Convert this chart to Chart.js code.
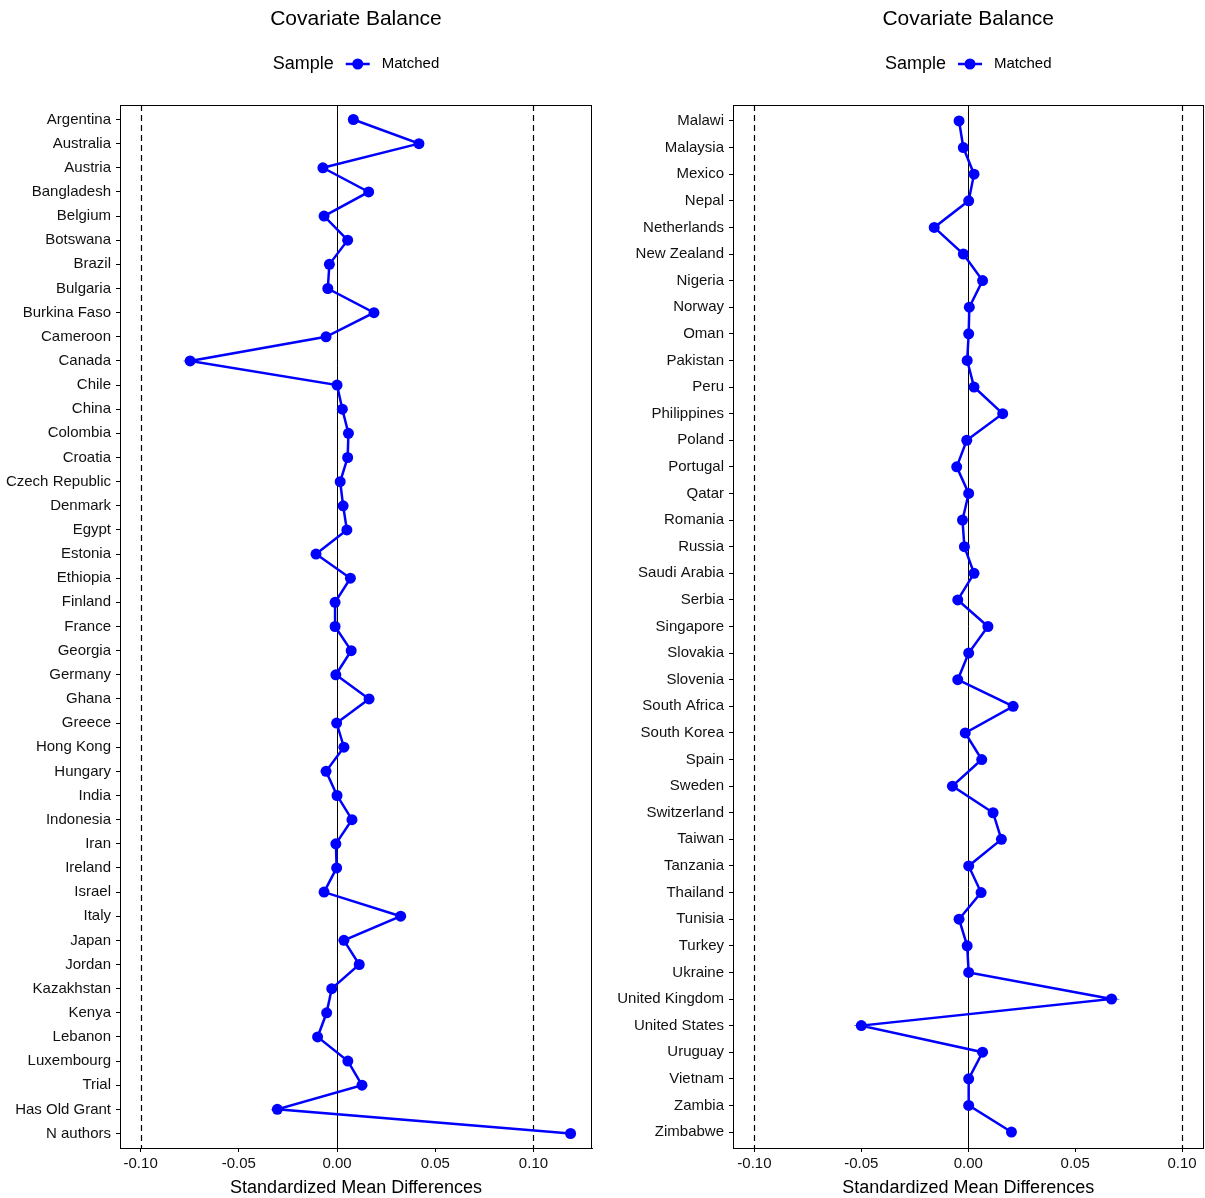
<!DOCTYPE html>
<html>
<head>
<meta charset="utf-8">
<script src="https://cdn.jsdelivr.net/npm/chart.js@4.4.0/dist/chart.umd.min.js"></script>
<style>
  html, body { margin: 0; background: #fff; overflow: hidden; }
  #wrap { position: relative; width: 1205px; height: 1198px; overflow: hidden; }
  canvas { position: absolute; top: 0; }
</style>
</head>
<body>
<div id="wrap">
  <canvas id="left" width="600" height="1198" style="left:0"></canvas>
  <canvas id="right" width="609" height="1198" style="left:600px"></canvas>
</div>
<script>
const leftLabels = ['Argentina','Australia','Austria','Bangladesh','Belgium','Botswana','Brazil','Bulgaria',
  'Burkina Faso','Cameroon','Canada','Chile','China','Colombia','Croatia','Czech Republic','Denmark','Egypt',
  'Estonia','Ethiopia','Finland','France','Georgia','Germany','Ghana','Greece','Hong Kong','Hungary','India',
  'Indonesia','Iran','Ireland','Israel','Italy','Japan','Jordan','Kazakhstan','Kenya','Lebanon','Luxembourg',
  'Trial','Has Old Grant','N authors'];
const leftValues = [0.0083, 0.0417, -0.0072, 0.0161, -0.0066, 0.0054, -0.0039, -0.0047, 0.0188, -0.0056,
  -0.0748, 0.0000, 0.0027, 0.0058, 0.0054, 0.0016, 0.0031, 0.0050, -0.0107, 0.0068, -0.0010, -0.0010,
  0.0072, -0.0006, 0.0163, -0.0002, 0.0035, -0.0056, 0.0000, 0.0076, -0.0006, -0.0002, -0.0066, 0.0324,
  0.0035, 0.0113, -0.0027, -0.0053, -0.0099, 0.0055, 0.0127, -0.0304, 0.1189];

const rightLabels = ['Malawi','Malaysia','Mexico','Nepal','Netherlands','New Zealand','Nigeria','Norway','Oman',
  'Pakistan','Peru','Philippines','Poland','Portugal','Qatar','Romania','Russia','Saudi Arabia','Serbia',
  'Singapore','Slovakia','Slovenia','South Africa','South Korea','Spain','Sweden','Switzerland','Taiwan',
  'Tanzania','Thailand','Tunisia','Turkey','Ukraine','United Kingdom','United States','Uruguay','Vietnam',
  'Zambia','Zimbabwe'];
const rightValues = [-0.0043, -0.0023, 0.0027, 0.0002, -0.0159, -0.0023, 0.0067, 0.0005, 0.0002, -0.0005,
  0.0027, 0.0161, -0.0007, -0.0054, 0.0002, -0.0027, -0.0018, 0.0027, -0.0049, 0.0092, 0.0002, -0.0049,
  0.0210, -0.0014, 0.0063, -0.0074, 0.0116, 0.0155, 0.0002, 0.0060, -0.0043, -0.0005, 0.0002, 0.0670,
  -0.0500, 0.0067, 0.0002, 0.0002, 0.0202];

const xTicks = [-0.10, -0.05, 0.00, 0.05, 0.10];
const thresholds = [-0.1, 0.1];
const seriesName = 'Matched';
const legendTitle = 'Sample';
const plotTitle = 'Covariate Balance';

Chart.defaults.font.family = '"Liberation Sans", Arial, sans-serif';
Chart.defaults.color = '#111';

// reference lines, panel frame, title and legend
const decor = {
  id: 'decor',
  beforeDatasetsDraw(chart) {
    const {ctx, chartArea: a} = chart;
    const x = chart.scales.x;
    ctx.save();
    ctx.strokeStyle = '#000';
    ctx.lineWidth = 1.2;
    ctx.setLineDash([6, 4]);
    thresholds.forEach(t => {
      const px = Math.round(x.getPixelForValue(t)) + 0.5;
      ctx.beginPath(); ctx.moveTo(px, a.top); ctx.lineTo(px, a.bottom); ctx.stroke();
    });
    ctx.setLineDash([]);
    ctx.lineWidth = 1;
    const z = Math.round(x.getPixelForValue(0)) + 0.5;
    ctx.beginPath(); ctx.moveTo(z, a.top); ctx.lineTo(z, a.bottom); ctx.stroke();
    ctx.strokeRect(Math.round(a.left) + 0.5, Math.round(a.top) + 0.5,
      Math.round(a.right - a.left) - 1, Math.round(a.bottom - a.top));
    ctx.restore();
  },
  afterDraw(chart) {
    const {ctx, chartArea: a} = chart;
    const cx = (a.left + a.right) / 2;
    ctx.save();
    ctx.fillStyle = '#000';
    ctx.textBaseline = 'middle';
    ctx.textAlign = 'center';
    ctx.font = '21px "Liberation Sans", Arial, sans-serif';
    ctx.fillText(plotTitle, cx, 19);

    ctx.textAlign = 'left';
    ctx.font = '18px "Liberation Sans", Arial, sans-serif';
    const w1 = ctx.measureText(legendTitle).width;
    ctx.font = '15px "Liberation Sans", Arial, sans-serif';
    const w2 = ctx.measureText(seriesName).width;
    const keyW = 24, gap = 12;
    const total = w1 + gap + keyW + gap + w2;
    let px = cx - total / 2;
    const y = 64;
    ctx.font = '18px "Liberation Sans", Arial, sans-serif';
    ctx.fillText(legendTitle, px, y);
    px += w1 + gap;
    ctx.strokeStyle = '#0000FF';
    ctx.lineWidth = 2.5;
    ctx.beginPath(); ctx.moveTo(px, y); ctx.lineTo(px + keyW, y); ctx.stroke();
    ctx.fillStyle = '#0000FF';
    ctx.beginPath(); ctx.arc(px + keyW / 2, y, 5.5, 0, Math.PI * 2); ctx.fill();
    px += keyW + gap;
    ctx.fillStyle = '#000';
    ctx.font = '15px "Liberation Sans", Arial, sans-serif';
    ctx.fillText(seriesName, px, y);
    ctx.restore();
  }
};

function makeChart(id, labels, values, range, yWidth, padRight) {
  new Chart(document.getElementById(id), {
    type: 'scatter',
    data: {
      datasets: [{
        label: seriesName,
        data: values.map((v, i) => ({x: v, y: i})),
        showLine: true,
        borderColor: '#0000FF',
        borderWidth: 2.5,
        pointRadius: 5.5,
        pointBackgroundColor: '#0000FF',
        pointBorderWidth: 0
      }]
    },
    options: {
      responsive: false,
      animation: false,
      layout: {padding: {top: 105, right: padRight, left: 0, bottom: 0}},
      plugins: {legend: {display: false}, title: {display: false}, tooltip: {enabled: false}},
      scales: {
        x: {
          type: 'linear',
          min: range[0],
          max: range[1],
          afterBuildTicks: s => { s.ticks = xTicks.map(v => ({value: v})); },
          afterFit: s => { s.height = 50; s.paddingLeft = 0; s.paddingRight = 0; },
          ticks: {
            callback: v => v.toFixed(2),
            font: {size: 15},
            color: '#111',
            padding: 3,
            maxRotation: 0
          },
          grid: {drawOnChartArea: false, drawTicks: true, tickLength: 4, color: '#000'},
          border: {color: '#000'},
          title: {display: true, text: 'Standardized Mean Differences', font: {size: 18}, color: '#000',
            padding: {top: 0, bottom: -1}}
        },
        y: {
          type: 'linear',
          reverse: true,
          min: -0.6,
          max: labels.length - 0.4,
          afterBuildTicks: s => { s.ticks = labels.map((_, i) => ({value: i})); },
          afterFit: s => { s.width = yWidth; s.paddingTop = 0; s.paddingBottom = 0; },
          ticks: {
            callback: v => labels[v],
            autoSkip: false,
            font: {size: 15},
            color: '#111',
            padding: 5
          },
          grid: {drawOnChartArea: false, drawTicks: true, tickLength: 4, color: '#000'},
          border: {color: '#000'}
        }
      }
    },
    plugins: [decor]
  });
}

makeChart('left', leftLabels, leftValues, [-0.1105, 0.1298], 120, 8);
makeChart('right', rightLabels, rightValues, [-0.11, 0.11], 133, 2);
</script>
</body>
</html>
